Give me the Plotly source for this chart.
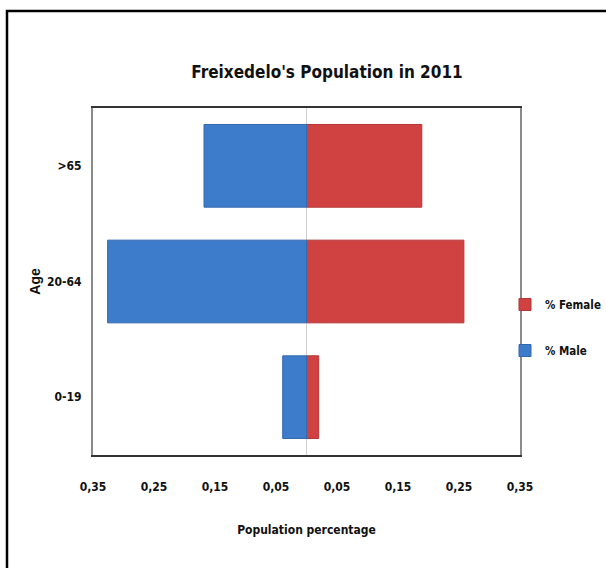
import plotly.graph_objects as go

# Age groups (bottom to top) and share of the population by sex
age_groups = ["0-19", "20-64", ">65"]
male_share = [0.039, 0.326, 0.168]
female_share = [0.020, 0.258, 0.189]

tick_values = [-0.35, -0.25, -0.15, -0.05, 0.05, 0.15, 0.25, 0.35]
tick_labels = ["0,35", "0,25", "0,15", "0,05", "0,05", "0,15", "0,25", "0,35"]

NARROW = "DejaVu Sans Condensed, Liberation Sans Narrow, Arial Narrow, sans-serif"
WIDE = "Liberation Sans, Arial, sans-serif"
INK = "#111111"


def bold(s):
    return f"<b>{s}</b>"


fig = go.Figure()

# Females to the right of the centre line
fig.add_trace(go.Bar(
    y=age_groups, x=female_share, orientation="h", name=bold("% Female"),
    legendgroup="f",
    marker=dict(color="#D04141", line=dict(color="#B43636", width=1)),
))
# Males to the left (negative side)
fig.add_trace(go.Bar(
    y=age_groups, x=[-v for v in male_share], orientation="h", name=bold("% Male"),
    legendgroup="m",
    marker=dict(color="#3D7CCB", line=dict(color="#3469AE", width=1)),
))

fig.update_layout(
    width=606, height=568,
    margin=dict(l=93, r=86, t=108, b=113, autoexpand=False),
    paper_bgcolor="white", plot_bgcolor="white",
    barmode="overlay", bargap=0.285,
    title=dict(
        text=bold("Freixedelo's Population in 2011"),
        x=327 / 606, xanchor="center", xref="container",
        y=1 - 72 / 568, yanchor="middle", yref="container",
        font=dict(family=NARROW, size=17, color=INK),
    ),
    legend=dict(
        x=(505 - 93) / 427, xanchor="left",
        y=1 - (327.5 - 108) / 347, yanchor="middle",
        font=dict(family=NARROW, size=11.5, color=INK),
        tracegroupgap=27, itemwidth=30,
        bgcolor="rgba(0,0,0,0)",
    ),
    showlegend=True,
)

fig.update_xaxes(
    range=[-0.35, 0.35],
    tickmode="array", tickvals=tick_values,
    ticktext=[bold(t) for t in tick_labels],
    tickfont=dict(family=NARROW, size=12, color=INK),
    ticklabelstandoff=20, ticks="",
    showgrid=False,
    zeroline=True, zerolinecolor="#CFCFCF", zerolinewidth=1,
    showline=True, linecolor="#333333", linewidth=2, mirror=True,
    layer="above traces",
    title=dict(text=bold("Population percentage"), standoff=32,
               font=dict(family=NARROW, size=12, color=INK)),
)

fig.update_yaxes(
    categoryorder="array", categoryarray=age_groups,
    tickprefix="<b>", ticksuffix="</b>",
    tickfont=dict(family=NARROW, size=12, color=INK),
    ticklabelstandoff=7, ticks="",
    showgrid=False, zeroline=False,
    showline=True, linecolor="#8A8A8A", linewidth=2, mirror=True,
    title=dict(text=bold("Age"), standoff=3,
               font=dict(family=WIDE, size=14, color=INK)),
)

# Outer chart border (top and left edges lie inside the window)
fig.add_shape(
    type="rect", xref="paper", yref="paper",
    x0=(7 - 93) / 427, x1=1.6, y0=-0.6, y1=1 + (108 - 11) / 347,
    line=dict(color="black", width=2.5), fillcolor="rgba(0,0,0,0)",
    layer="below",
)

fig.write_html("out.html")
